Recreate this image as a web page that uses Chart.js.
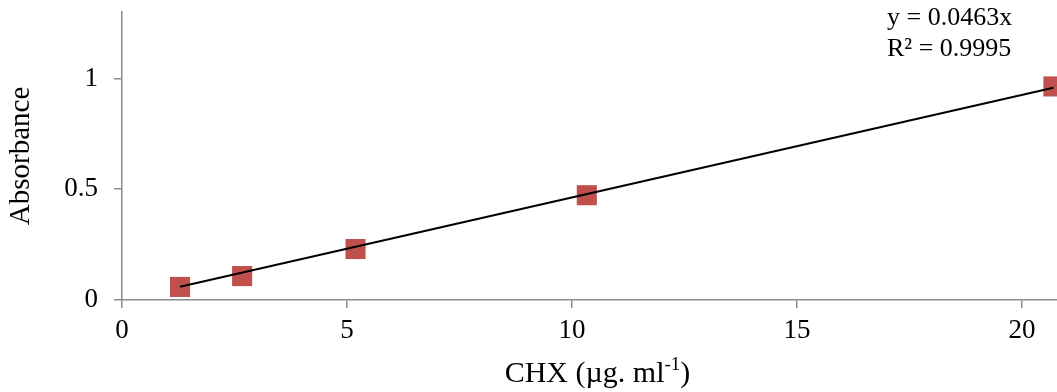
<!DOCTYPE html>
<html>
<head>
<meta charset="utf-8">
<script src="https://cdn.jsdelivr.net/npm/chart.js@4/dist/chart.umd.min.js"></script>
<style>
    html, body { margin: 0; padding: 0; background: #fff; }
    #calib { display: block; }
</style>
</head>
<body>
<canvas id="calib" width="1057" height="392"></canvas>
<script>
const concentration = [1.29, 2.67, 5.19, 10.33, 20.7];
const absorbance = [0.059, 0.108, 0.23, 0.473, 0.964];
const slope = 0.0463;
const equationLines = ["y = 0.0463x", "R\u00B2 = 0.9995"];
const xTicks = [0, 5, 10, 15, 20];
const yTicks = [0, 0.5, 1];

const AXIS = "#8c8c8c";
const FONT = "'Liberation Serif', 'Times New Roman', serif";

const points = concentration.map((x, i) => ({ x, y: absorbance[i] }));
const first = concentration[0];
const last = concentration[concentration.length - 1];
const trend = [
    { x: first, y: slope * first },
    { x: last, y: slope * last },
];

// x title has a superscript, and the equation sits in the corner
const textPlugin = {
    id: "extraText",
    afterDraw(chart) {
        const { ctx } = chart;
        ctx.save();
        ctx.fillStyle = "#000";
        ctx.textBaseline = "middle";

        ctx.font = "26px " + FONT;
        ctx.textAlign = "left";
        equationLines.forEach((line, i) => {
            ctx.fillText(line, 887, 18 + i * 31);
        });

        const main = "CHX (\u00B5g. ml";
        const sup = "-1";
        const tail = ")";
        ctx.font = "30px " + FONT;
        const wMain = ctx.measureText(main).width;
        const wTail = ctx.measureText(tail).width;
        ctx.font = "19px " + FONT;
        const wSup = ctx.measureText(sup).width;
        const total = wMain + wSup + wTail;
        let x = 503 + (189 - total) / 2;
        const y = 374;
        ctx.font = "30px " + FONT;
        ctx.fillText(main, x, y);
        x += wMain;
        ctx.font = "19px " + FONT;
        ctx.fillText(sup, x, y - 9);
        x += wSup;
        ctx.font = "30px " + FONT;
        ctx.fillText(tail, x, y);
        ctx.restore();
    },
};

new Chart(document.getElementById("calib"), {
    type: "scatter",

    data: {
        datasets: [
            {
                type: "line",
                label: "Linear",
                data: trend,
                borderColor: "#000",
                borderWidth: 2,
                pointRadius: 0,
                fill: false,
                order: 0,
            },
            {
                label: "Absorbance",
                data: points,
                pointStyle: "rect",
                pointRadius: 14.2,
                backgroundColor: "#C0504D",
                borderColor: "#C0504D",
                borderWidth: 0,
                order: 1,
            },
        ],
    },

    options: {
        responsive: false,
        animation: false,
        layout: {
            autoPadding: false,
            padding: { top: 12, left: 0, right: 0, bottom: 0 },
        },
        plugins: {
            legend: { display: false },
            tooltip: { enabled: false },
        },
        scales: {
            x: {
                type: "linear",
                min: 0,
                max: 20.78,
                afterFit: (scale) => {
                    scale.height = 92;
                    scale.paddingLeft = 0;
                    scale.paddingRight = 0;
                },
                afterBuildTicks: (scale) => {
                    scale.ticks = xTicks.map((v) => ({ value: v }));
                },
                border: { color: AXIS, width: 1.5 },
                grid: {
                    drawOnChartArea: false,
                    drawTicks: true,
                    tickLength: 8,
                    color: AXIS,
                    lineWidth: 1.5,
                },
                ticks: {
                    includeBounds: false,
                    maxRotation: 0,
                    padding: 7,
                    color: "#000",
                    font: { family: FONT, size: 27 },
                    callback: (v) => String(v),
                },
            },
            y: {
                min: 0,
                max: 1.3,
                afterFit: (scale) => {
                    scale.width = 122;
                    scale.paddingTop = 0;
                    scale.paddingBottom = 0;
                },
                afterBuildTicks: (scale) => {
                    scale.ticks = yTicks.map((v) => ({ value: v }));
                },
                border: { color: AXIS, width: 1.5 },
                grid: {
                    drawOnChartArea: false,
                    drawTicks: true,
                    tickLength: 8,
                    color: AXIS,
                    lineWidth: 1.5,
                },
                ticks: {
                    includeBounds: false,
                    padding: 16,
                    color: "#000",
                    font: { family: FONT, size: 27 },
                    callback: (v) => String(v),
                },
                title: {
                    display: true,
                    text: "Absorbance",
                    color: "#000",
                    padding: { top: 4, bottom: 0 },
                    font: { family: FONT, size: 29, weight: "normal" },
                },
            },
        },
    },

    plugins: [textPlugin],
});
</script>
</body>
</html>
